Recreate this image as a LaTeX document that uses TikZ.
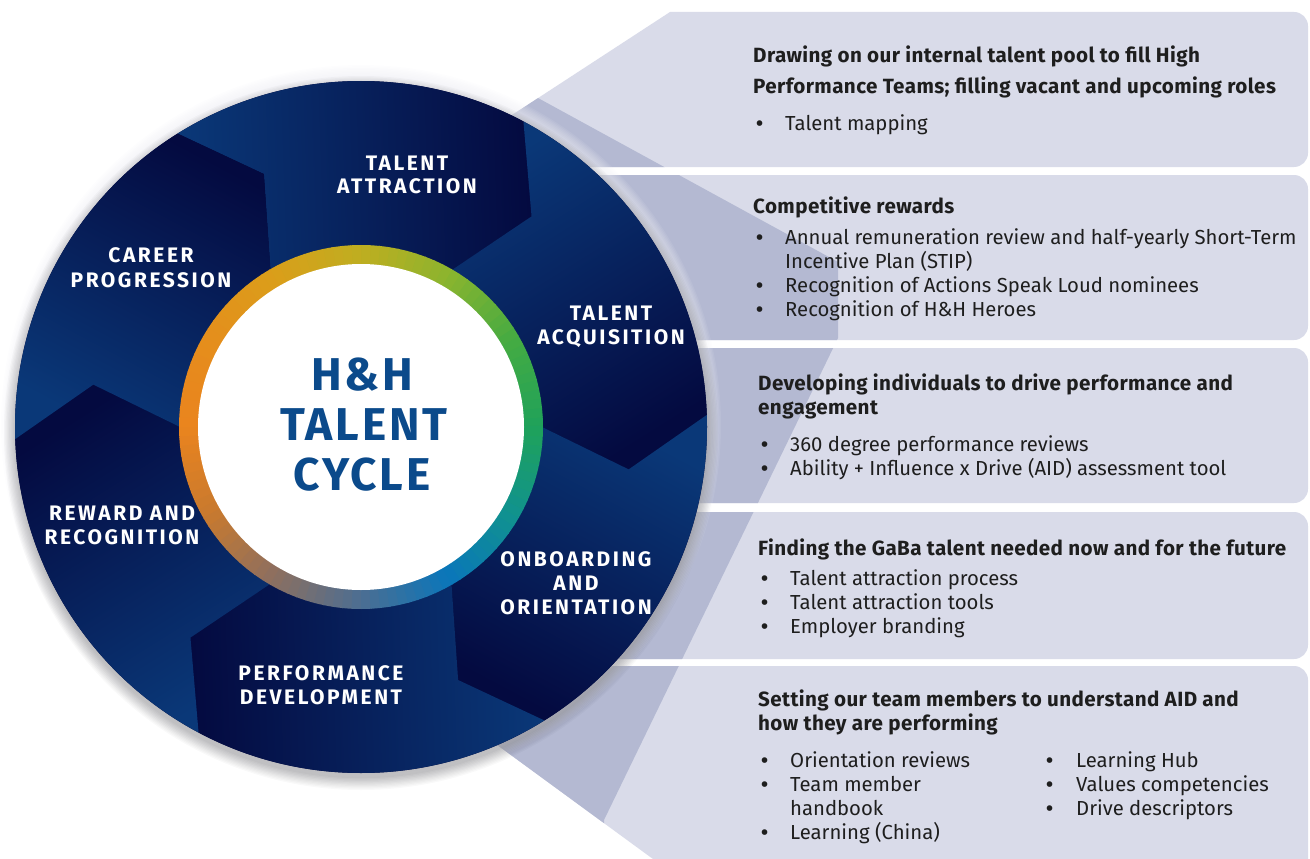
\documentclass[tikz,border=0pt]{standalone}
\usepackage{fontspec}
\setmainfont{Fira Sans}
\definecolor{lav}{HTML}{D9DBE9}
\definecolor{lavd}{HTML}{B4B9D2}
\definecolor{segl}{HTML}{0A3878}
\definecolor{segd}{HTML}{040A40}
\definecolor{ttl}{HTML}{0B4A8B}
\definecolor{txt}{HTML}{1E1E1E}
\definecolor{glow}{HTML}{EEEEF4}
\definecolor{ra}{HTML}{1FA25A}
\definecolor{rb}{HTML}{45AB42}
\definecolor{rc}{HTML}{8BB42E}
\definecolor{rd}{HTML}{BFAE20}
\definecolor{re}{HTML}{DA9E1A}
\definecolor{rf}{HTML}{E58E1C}
\definecolor{rg}{HTML}{EA841E}
\definecolor{rh}{HTML}{C8792F}
\definecolor{ri}{HTML}{8C6F60}
\definecolor{rj}{HTML}{4C6E92}
\definecolor{rk}{HTML}{0A76BA}
\definecolor{rl}{HTML}{10928F}
\newcommand\panelrects[1]{%
  \fill[#1,rounded corners=14pt] (200,12) rectangle (1308,167);
  \fill[#1,rounded corners=14pt] (200,175) rectangle (1308,340);
  \fill[#1,rounded corners=14pt] (200,348) rectangle (1308,503);
  \fill[#1,rounded corners=14pt] (200,512) rectangle (1308,659);
  \fill[#1,rounded corners=14pt] (200,666) rectangle (1308,900);}
\tikzset{
  seglab/.style={text=white, anchor=base, inner sep=0pt,
    font={\fontsize{21}{21}\selectfont\bfseries\addfontfeatures{LetterSpace=12}}},
  cen/.style={text=ttl, anchor=base, inner sep=0pt,
    font={\fontsize{46}{46}\selectfont\bfseries\addfontfeatures{LetterSpace=6}}},
  ptext/.style={text=txt, anchor=base west, inner sep=0pt,
    font={\fontsize{20.3}{20.3}\selectfont}},
  pbul/.style={ptext, font={\fontsize{20.3}{20.3}\selectfont\bfseries}},
  ptitle/.style={ptext, font={\fontsize{20.6}{20.6}\selectfont\bfseries\addfontfeatures{LetterSpace=2}}}
}
\begin{document}
\begin{tikzpicture}[x=1pt,y=-1pt]
\useasboundingbox (0,0) rectangle (1310,859);
% ---- panels
\begin{scope}
  \clip (670,12) -- (49,417) -- (709,900) -- (1320,900) -- (1320,12) -- cycle;
  \panelrects{lav}
  \clip (538,0) -- (538,98) -- (838,262) -- (838,338) -- (604,820) -- (604,900) -- (0,900) -- (0,0) -- cycle;
  \panelrects{lavd}
\end{scope}
% ---- glow and shadow
\foreach \i in {1,...,10} {\fill[glow, opacity=0.10] (361,425) circle (346+1.4*\i);}
\foreach \i in {1,...,10} {\fill[black, opacity=0.025] (361,433) circle (344+1.3*\i);}
% ---- wheel
\begin{scope}[shift={(361,427)}, yscale=-1]
  \fill[segd] (0,0) circle (346);
  \foreach \o in {122,62,2,-58,-118,-178} {
    \pgfmathsetmacro\c{\o-30}
    \shade[top color=segl, bottom color=segd, shading angle=\c]
      (\o:346) -- (\o-11:271) -- (\o-2:181)
      arc[start angle=\o-2, end angle=\o-62, radius=181]
      -- (\o-71:271) -- (\o-60:346)
      arc[start angle=\o-60, end angle=\o, radius=346] -- cycle;
  }
  \foreach \a/\ca/\cb in {0/ra/rb,30/rb/rc,60/rc/rd,90/rd/re,120/re/rf,150/rf/rg,
                          180/rg/rh,210/rh/ri,240/ri/rj,270/rj/rk,300/rk/rl,330/rl/ra} {
    \foreach \j in {0,...,9} {
      \pgfmathtruncatemacro\p{95-10*\j}
      \fill[\ca!\p!\cb] (\a+3*\j:161) arc[start angle=\a+3*\j, end angle=\a+3*\j+3.4, radius=161]
        -- (\a+3*\j+3.4:182) arc[start angle=\a+3*\j+3.4, end angle=\a+3*\j, radius=182] -- cycle;
    }
  }
  \fill[white] (0,0) circle (163);
\end{scope}
% ---- centre text
\node[cen] (c1) at (362,390) {H\&H};
\node[cen] (c2) at (364,440) {TALENT};
\node[cen] (c3) at (362,490) {CYCLE};
% ---- segment labels
\node[seglab] (s1a) at (407,170.5) {TALENT};
\node[seglab] (s1b) at (407,193.5) {ATTRACTION};
\node[seglab] (s2a) at (151,262.5) {CAREER};
\node[seglab] (s2b) at (151,287) {PROGRESSION};
\node[seglab] (s3a) at (611,320) {TALENT};
\node[seglab] (s3b) at (611,344) {ACQUISITION};
\node[seglab] (s4a) at (122,520) {REWARD AND};
\node[seglab] (s4b) at (122,544) {RECOGNITION};
\node[seglab] (s5a) at (576,566) {ONBOARDING};
\node[seglab] (s5b) at (576,590) {AND};
\node[seglab] (s5c) at (576,614) {ORIENTATION};
\node[seglab] (s6a) at (321,680.5) {PERFORMANCE};
\node[seglab] (s6b) at (321,704.5) {DEVELOPMENT};
% ---- panel 1
\node[ptitle] (p1a) at (753,62.5) {Drawing on our internal talent pool to fill High};
\node[ptitle] (p1b) at (753,94) {Performance Teams; filling vacant and upcoming roles};
\node[pbul] (p1d) at (756,131) {•};
\node[ptext] (p1c) at (785,131) {Talent mapping};
% ---- panel 2
\node[ptitle] (p2a) at (753,213) {Competitive rewards};
\node[pbul] (p2d1) at (756,244) {•};
\node[ptext] (p2b) at (785,244) {Annual remuneration review and half-yearly Short-Term};
\node[ptext] (p2c) at (785,268) {Incentive Plan (STIP)};
\node[pbul] (p2d2) at (756,292) {•};
\node[ptext] (p2e) at (785,292) {Recognition of Actions Speak Loud nominees};
\node[pbul] (p2d3) at (756,316) {•};
\node[ptext] (p2f) at (785,316) {Recognition of H\&H Heroes};
% ---- panel 3
\node[ptitle] (p3a) at (758,390) {Developing individuals to drive performance and};
\node[ptitle] (p3b) at (758,414) {engagement};
\node[pbul] (p3d1) at (761,451) {•};
\node[ptext] (p3c) at (790,451) {360 degree performance reviews};
\node[pbul] (p3d2) at (761,475) {•};
\node[ptext] (p3e) at (790,475) {Ability + Influence x Drive (AID) assessment tool};
% ---- panel 4
\node[ptitle] (p4a) at (758,555) {Finding the GaBa talent needed now and for the future};
\node[pbul] (p4d1) at (761,585) {•};
\node[ptext] (p4b) at (790,585) {Talent attraction process};
\node[pbul] (p4d2) at (761,609) {•};
\node[ptext] (p4c) at (790,609) {Talent attraction tools};
\node[pbul] (p4d3) at (761,633) {•};
\node[ptext] (p4e) at (790,633) {Employer branding};
% ---- panel 5
\node[ptitle] (p5a) at (758,706) {Setting our team members to understand AID and};
\node[ptitle] (p5b) at (758,730) {how they are performing};
\node[pbul] (p5d1) at (761,767) {•};
\node[ptext] (p5c) at (790,767) {Orientation reviews};
\node[pbul] (p5d2) at (761,791) {•};
\node[ptext] (p5e) at (790,791) {Team member};
\node[ptext] (p5f) at (790,815) {handbook};
\node[pbul] (p5d3) at (761,839) {•};
\node[ptext] (p5g) at (790,839) {Learning (China)};
\node[pbul] (p5d4) at (1046,767) {•};
\node[ptext] (p5h) at (1076,767) {Learning Hub};
\node[pbul] (p5d5) at (1046,791) {•};
\node[ptext] (p5i) at (1076,791) {Values competencies};
\node[pbul] (p5d6) at (1046,815) {•};
\node[ptext] (p5j) at (1076,815) {Drive descriptors};
\end{tikzpicture}
\end{document}
